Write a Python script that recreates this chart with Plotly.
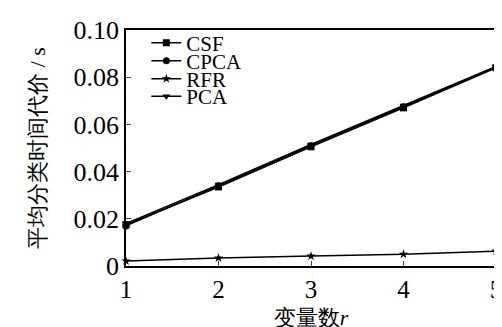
import plotly.graph_objects as go

r = [1, 2, 3, 4, 5]
csf = [0.0175, 0.0335, 0.0505, 0.0670, 0.0840]
cpca = [0.0170, 0.0340, 0.0510, 0.0675, 0.0843]
rfr = [0.0021, 0.0034, 0.0042, 0.0050, 0.0063]
pca = [0.0180, 0.0345, 0.0515, 0.0680, 0.0845]
y_ticks = [0, 0.02, 0.04, 0.06, 0.08, 0.10]
y_labels = ["0", "0.02", "0.04", "0.06", "0.08", "0.10"]

series = [("CSF", csf, "square"), ("CPCA", cpca, "circle"),
          ("RFR", rfr, "star"), ("PCA", pca, "triangle-down")]
legend_names = ["legend", "legend2", "legend3", "legend4"]
legend_y = [0.945, 0.868, 0.792, 0.718]

font = "Liberation Serif"

fig = go.Figure()
for (name, vals, sym), lg in zip(series, legend_names):
    fig.add_trace(go.Scatter(x=r, y=vals, name=name, mode="lines+markers",
                             line=dict(color="black", width=1.5),
                             marker=dict(symbol=sym, size=7, color="black"),
                             cliponaxis=False, legend=lg))

legends = {}
for lg, ly in zip(legend_names, legend_y):
    legends[lg] = dict(x=0.055, y=ly, xanchor="left", yanchor="middle",
                       bgcolor="rgba(0,0,0,0)", font=dict(size=21, family=font),
                       itemwidth=30, borderwidth=0)

fig.update_layout(
    width=502, height=327,
    margin=dict(l=118, r=8, t=20, b=69),
    paper_bgcolor="white", plot_bgcolor="white",
    font=dict(family=font, color="black", size=20),
    showlegend=True,
    **legends,
)
tick_font = dict(size=25, color="black", family=font)
fig.update_xaxes(tickvals=r, tickfont=tick_font)
fig.update_yaxes(tickvals=y_ticks, ticktext=y_labels, tickfont=dict(size=26, color="black", family=font))
fig.update_xaxes(range=[1, 5], ticks="inside", ticklen=5,
                 showline=True, linecolor="black", linewidth=1.5, mirror=True,
                 showgrid=False, zeroline=False,
                 title_text="变量数<i>r</i>", title_font_size=22, title_standoff=8)
fig.update_yaxes(range=[0, 0.10], ticks="inside", ticklen=5,
                 showline=True, linecolor="black", linewidth=1.5, mirror=True,
                 showgrid=False, zeroline=False,
                 title_text="平均分类时间代价 / s", title_font_size=22, title_standoff=22)
fig.write_html("out.html")
